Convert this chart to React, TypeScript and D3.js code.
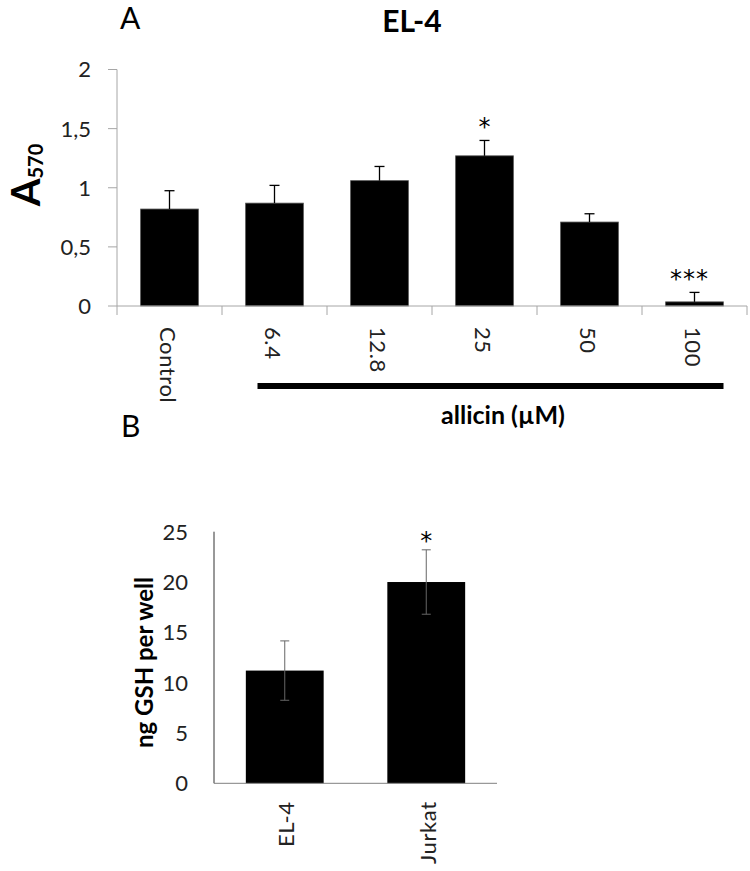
import * as d3 from 'd3'

const FONT = 'Lato, "Open Sans", sans-serif'
const STAR_FONT = '"DejaVu Sans", sans-serif'

// panel A: EL-4 viability (A570) vs allicin
const conditions = ['Control', '6.4', '12.8', '25', '50', '100']
const a570 = [0.82, 0.87, 1.06, 1.27, 0.71, 0.035]
const a570Err = [0.155, 0.15, 0.12, 0.13, 0.07, 0.08]
const a570Marks = ['', '', '', '*', '', '***']
const yTicksA = [0, 0.5, 1, 1.5, 2]

// panel B: GSH content
const cells = ['EL-4', 'Jurkat']
const gsh = [11.2, 20.0]
const gshErr = [2.95, 3.2]
const gshMarks = ['', '*']
const yTicksB = [0, 5, 10, 15, 20, 25]

const PANEL_A = { left: 117, right: 747, top: 69.5, bottom: 306 }
const PANEL_B = { left: 214, right: 497, top: 531.7, bottom: 783.3 }

const commaFmt = (d: number) => String(d).replace('.', ',')

const PanelA = () => {
  const x = d3
    .scaleBand()
    .domain(conditions)
    .range([PANEL_A.left, PANEL_A.right])
    .paddingInner(0.45)
    .paddingOuter(0.225)
  const y = d3.scaleLinear().domain([0, 2]).range([PANEL_A.bottom, PANEL_A.top])
  const bw = x.bandwidth()
  const cx = (c: string) => (x(c) ?? 0) + bw / 2
  const axisColor = '#a6a6a6'

  return (
    <g>
      <text x={120} y={29} fontSize={30} fontFamily={FONT}>A</text>
      <text x={412} y={32} fontSize={30} fontWeight="bold" fontFamily={FONT} textAnchor="middle">
        EL-4
      </text>
      <text
        transform="translate(40,175) rotate(-90)"
        textAnchor="middle"
        fontFamily={FONT}
        fontWeight="bold"
        fontSize={40}
      >
        A<tspan fontSize={20} dy={3}>570</tspan>
      </text>

      {/* y axis */}
      <line x1={PANEL_A.left} x2={PANEL_A.left} y1={y(2)} y2={PANEL_A.bottom} stroke={axisColor} />
      {yTicksA.map((t) => (
        <g key={t}>
          <line x1={PANEL_A.left - 9} x2={PANEL_A.left} y1={y(t)} y2={y(t)} stroke={axisColor} />
          <text
            x={91}
            y={y(t)}
            dy="0.36em"
            textAnchor="end"
            fontSize={22}
            fontFamily={FONT}
            fill="#222"
          >
            {commaFmt(t)}
          </text>
        </g>
      ))}

      {/* bars */}
      {conditions.map((c, i) => (
        <g key={c}>
          <rect
            x={x(c)}
            width={bw}
            y={y(a570[i])}
            height={PANEL_A.bottom - y(a570[i])}
            fill="#000"
            stroke="#555"
            strokeWidth={0.8}
          />
          <line x1={cx(c)} x2={cx(c)} y1={y(a570[i])} y2={y(a570[i] + a570Err[i])} stroke="#000" strokeWidth={1.3} />
          <line
            x1={cx(c) - 5}
            x2={cx(c) + 5}
            y1={y(a570[i] + a570Err[i])}
            y2={y(a570[i] + a570Err[i])}
            stroke="#000"
            strokeWidth={1.3}
          />
          {a570Marks[i] && (
            <text
              x={cx(c) - (a570Marks[i].length > 1 ? 5 : 0)}
              y={y(a570[i] + a570Err[i]) - 5}
              textAnchor="middle"
              fontSize={24}
              fontFamily={STAR_FONT}
              letterSpacing={a570Marks[i].length > 1 ? 1 : 0}
            >
              {a570Marks[i]}
            </text>
          )}
        </g>
      ))}

      {/* x axis */}
      <line x1={PANEL_A.left} x2={PANEL_A.right} y1={PANEL_A.bottom} y2={PANEL_A.bottom} stroke={axisColor} />
      {[...conditions.map((c) => x(c)! - (x.step() - bw) / 2), PANEL_A.right].map((t, i) => (
        <line key={i} x1={t} x2={t} y1={PANEL_A.bottom} y2={PANEL_A.bottom + 9} stroke={axisColor} />
      ))}
      {conditions.map((c) => (
        <text
          key={c}
          transform={`translate(${cx(c) - 1},${PANEL_A.bottom + 21}) rotate(90)`}
          dominantBaseline="central"
          fontSize={22}
          letterSpacing={0.6}
          fontFamily={FONT}
          fill="#222"
        >
          {c}
        </text>
      ))}

      {/* allicin bracket */}
      <line
        x1={cx('6.4') - 17}
        x2={cx('100') + 29}
        y1={386}
        y2={386}
        stroke="#000"
        strokeWidth={6}
      />
      <text x={503} y={424} textAnchor="middle" fontSize={25} fontWeight="bold" fontFamily={FONT}>
        allicin (µM)
      </text>
    </g>
  )
}

const PanelB = () => {
  const x = d3
    .scaleBand()
    .domain(cells)
    .range([PANEL_B.left, PANEL_B.right])
    .paddingInner(0.45)
    .paddingOuter(0.225)
  const y = d3.scaleLinear().domain([0, 25]).range([PANEL_B.bottom, PANEL_B.top])
  const bw = x.bandwidth()
  const cx = (c: string) => (x(c) ?? 0) + bw / 2

  return (
    <g>
      <text x={121} y={437} fontSize={30} fontFamily={FONT}>B</text>
      <text
        transform={`translate(143,${(PANEL_B.top + PANEL_B.bottom) / 2 + 5}) rotate(-90)`}
        textAnchor="middle"
        dominantBaseline="central"
        fontSize={24}
        fontWeight="bold"
        fontFamily={FONT}
      >
        ng GSH per well
      </text>

      <line x1={PANEL_B.left} x2={PANEL_B.left} y1={PANEL_B.top} y2={PANEL_B.bottom} stroke="#333" />
      {yTicksB.map((t) => (
        <text
          key={t}
          x={188}
          y={y(t)}
          dy="0.36em"
          textAnchor="end"
          fontSize={22}
          fontFamily={FONT}
          fill="#222"
        >
          {t}
        </text>
      ))}

      {cells.map((c, i) => (
        <g key={c}>
          <rect x={x(c)} width={bw} y={y(gsh[i])} height={PANEL_B.bottom - y(gsh[i])} fill="#000" />
          <line
            x1={cx(c)}
            x2={cx(c)}
            y1={y(gsh[i] - gshErr[i])}
            y2={y(gsh[i] + gshErr[i])}
            stroke="#666"
            strokeWidth={1}
          />
          {[gsh[i] - gshErr[i], gsh[i] + gshErr[i]].map((v, k) => (
            <line key={k} x1={cx(c) - 4.5} x2={cx(c) + 4.5} y1={y(v)} y2={y(v)} stroke="#666" strokeWidth={1} />
          ))}
          {gshMarks[i] && (
            <text
              x={cx(c)}
              y={y(gsh[i] + gshErr[i]) - 1}
              textAnchor="middle"
              fontSize={24}
              fontFamily={STAR_FONT}
            >
              {gshMarks[i]}
            </text>
          )}
        </g>
      ))}

      <line x1={PANEL_B.left} x2={PANEL_B.right} y1={PANEL_B.bottom} y2={PANEL_B.bottom} stroke="#808080" />
      {cells.map((c) => (
        <text
          key={c}
          transform={`translate(${cx(c) + 1},${PANEL_B.bottom + 18}) rotate(-90)`}
          textAnchor="end"
          dominantBaseline="central"
          fontSize={22}
          letterSpacing={0.6}
          fontFamily={FONT}
          fill="#222"
        >
          {c}
        </text>
      ))}
    </g>
  )
}

export default function App() {
  return (
    <svg
      width={750}
      height={871}
      style={{ position: 'absolute', left: 0, top: 0, background: '#fff' }}
    >
      <rect width={750} height={871} fill="#fff" />
      <PanelA />
      <PanelB />
    </svg>
  )
}
